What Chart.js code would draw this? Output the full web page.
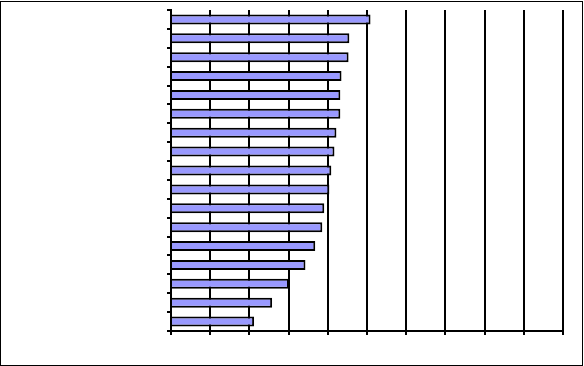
<!DOCTYPE html>
<html>
<head>
<meta charset="utf-8">
<script src="https://cdn.jsdelivr.net/npm/chart.js@4/dist/chart.umd.min.js"></script>
<style>
	html, body { margin: 0; padding: 0; background: #fff; }
	.chart { position: relative; width: 584px; height: 366px; }
</style>
</head>
<body>
<div class="chart"><canvas id="bars"></canvas></div>
<script>
const categories = ['1', '2', '3', '4', '5', '6', '7', '8', '9', '10', '11', '12', '13', '14', '15', '16', '17'];
const values = [5.09, 4.55, 4.53, 4.35, 4.32, 4.32, 4.22, 4.17, 4.09, 4.04, 3.91, 3.86, 3.68, 3.43, 3.01, 2.58, 2.12];
const xMin = 0,
	xMax = 10,
	xStep = 1;

// outer frame round the whole picture
const frame = {
	id: 'frame',
	afterDraw(chart) {
		const ctx = chart.ctx;
		ctx.save();
		ctx.strokeStyle = '#000';
		ctx.lineWidth = 1;
		ctx.strokeRect(0.5, 1.5, 582, 364);
		ctx.restore();
	},
};

const data = {
	labels: categories,
	datasets: [
		{
			data: values,
			backgroundColor: '#9999FF',
			borderColor: '#000',
			borderWidth: 2,
			barPercentage: 0.53,
			categoryPercentage: 1,
		},
	],
};

const config = {
	type: 'bar',
	data,
	options: {
		indexAxis: 'y',
		responsive: true,
		maintainAspectRatio: false,
		animation: false,
		layout: {
			padding: { left: 167, top: 10, right: 21, bottom: 31 },
		},
		plugins: {
			legend: { display: false },
			tooltip: { enabled: false },
		},
		scales: {
			x: {
				min: xMin,
				max: xMax,
				ticks: { display: false, stepSize: xStep },
				grid: { color: '#000', lineWidth: 2, tickLength: 4 },
				border: { color: '#000', width: 2 },
			},
			y: {
				ticks: { display: false },
				grid: { color: '#000', lineWidth: 2, drawOnChartArea: false, tickLength: 4 },
				border: { color: '#000', width: 2 },
			},
		},
	},
	plugins: [frame],
};

new Chart(document.querySelector('#bars'), config);
</script>
</body>
</html>
